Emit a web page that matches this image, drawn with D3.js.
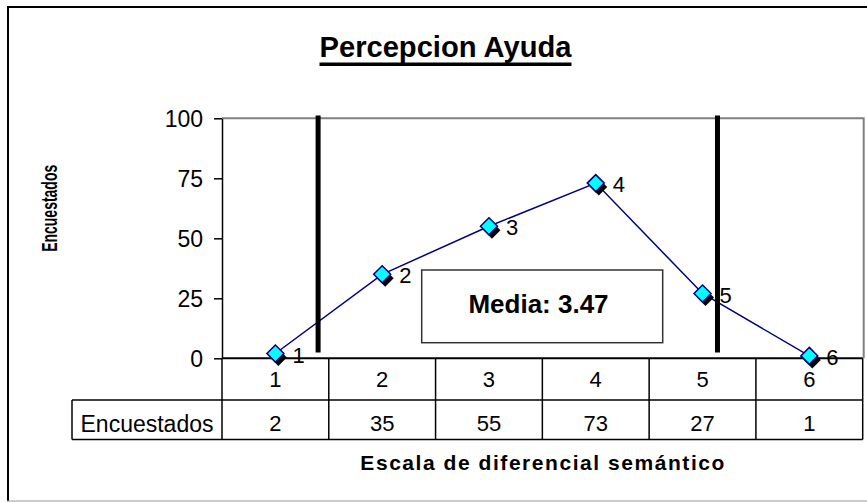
<!DOCTYPE html>
<html>
<head>
<meta charset="utf-8">
<script src="https://cdn.jsdelivr.net/npm/d3@7"></script>
<style>
  html, body { margin: 0; padding: 0; background: #fff; }
  svg { display: block; font-family: "Liberation Sans", Arial, sans-serif; }
</style>
</head>
<body>
<svg id="chart" width="867" height="502"></svg>
<script>
// ---- data ----
const titleText = "Percepcion Ayuda";
const xTitle = "Escala de diferencial semántico";
const yTitle = "Encuestados";
const rowLabel = "Encuestados";
const categories = ["1", "2", "3", "4", "5", "6"];
const encuestados = [2, 35, 55, 73, 27, 1];
const yTicks = [0, 25, 50, 75, 100];
const refLinesX = [1.4, 5.14];
const refLineSpan = [2.4, 101.2];
const mediaLabel = "Media: 3.47";

// ---- layout ----
const svg = d3.select("#chart");
const FONT_REG = 22;
const plot = { left: 222, right: 862.7, top: 118.3, bottom: 358.3 };
const x = d3.scaleLinear().domain([0.5, categories.length + 0.5]).range([plot.left, plot.right]);
const y = d3.scaleLinear().domain([0, 100]).range([plot.bottom, plot.top]);
const rowTop = plot.bottom, rowMid = 400, rowBot = 439.5, labelLeft = 72;

// outer chart frame
svg.append("line").attr("x1", 8).attr("x2", 867).attr("y1", 7).attr("y2", 7)
  .attr("stroke", "#000").attr("stroke-width", 2);
svg.append("line").attr("x1", 8).attr("x2", 8).attr("y1", 6).attr("y2", 501)
  .attr("stroke", "#000").attr("stroke-width", 2);
svg.append("line").attr("x1", 7).attr("x2", 867).attr("y1", 501).attr("y2", 501)
  .attr("stroke", "#999").attr("stroke-width", 1);

// title
svg.append("text").attr("x", 445.5).attr("y", 56.7).attr("text-anchor", "middle")
  .attr("font-size", 29).attr("font-weight", "bold")
  .attr("textLength", 252).attr("lengthAdjust", "spacingAndGlyphs")
  .text(titleText);
svg.append("rect").attr("x", 319.5).attr("y", 62.5).attr("width", 252).attr("height", 3.5).attr("fill", "#000");

// plot area border (gray)
svg.append("path")
  .attr("d", `M${plot.left},${plot.top}H${plot.right + 1}V${plot.bottom}`)
  .attr("fill", "none").attr("stroke", "#808080").attr("stroke-width", 2);

// series line
const line = d3.line().x((d, i) => x(i + 1)).y(d => y(d));
svg.append("path").datum(encuestados).attr("d", line)
  .attr("fill", "none").attr("stroke", "#000080").attr("stroke-width", 1.5);

// reference vertical lines
svg.selectAll(".ref").data(refLinesX).join("line").attr("class", "ref")
  .attr("x1", d => x(d)).attr("x2", d => x(d))
  .attr("y1", y(refLineSpan[1])).attr("y2", y(refLineSpan[0]))
  .attr("stroke", "#000").attr("stroke-width", 5);

// y axis
const yAxis = d3.axisLeft(y).tickValues(yTicks).tickSize(8).tickSizeOuter(0).tickPadding(11);
const gy = svg.append("g").attr("transform", `translate(${plot.left},0)`).call(yAxis);
gy.select(".domain").attr("stroke", "#000").attr("stroke-width", 1.5);
gy.selectAll(".tick line").attr("stroke", "#000").attr("stroke-width", 1.5);
gy.selectAll(".tick text").attr("font-size", 23).attr("fill", "#000")
  .attr("font-family", "'Liberation Sans', Arial, sans-serif").attr("dy", "0.36em");

// y title
svg.append("text").attr("transform", "translate(56.5,208.3) rotate(-90)")
  .attr("text-anchor", "middle").attr("font-size", 22).attr("font-weight", "bold")
  .attr("textLength", 87).attr("lengthAdjust", "spacingAndGlyphs")
  .text(yTitle);

// data table
const tbl = svg.append("g").attr("stroke", "#000").attr("stroke-width", 1.5);
const bounds = d3.range(categories.length + 1).map(i => x(i + 0.5));
bounds.forEach(b => tbl.append("line").attr("x1", b).attr("x2", b).attr("y1", rowTop).attr("y2", rowBot));
tbl.append("line").attr("x1", labelLeft).attr("x2", labelLeft).attr("y1", rowMid).attr("y2", rowBot);
tbl.append("line").attr("x1", labelLeft).attr("x2", plot.right).attr("y1", rowMid).attr("y2", rowMid);
tbl.append("line").attr("x1", labelLeft).attr("x2", plot.right).attr("y1", rowBot).attr("y2", rowBot);

// x axis line
svg.append("line").attr("x1", plot.left).attr("x2", plot.right).attr("y1", plot.bottom).attr("y2", plot.bottom)
  .attr("stroke", "#000").attr("stroke-width", 2);

svg.selectAll(".cat").data(categories).join("text").attr("class", "cat")
  .attr("x", (d, i) => x(i + 1)).attr("y", 386.5).attr("text-anchor", "middle")
  .attr("font-size", FONT_REG).text(d => d);
svg.selectAll(".val").data(encuestados).join("text").attr("class", "val")
  .attr("x", (d, i) => x(i + 1)).attr("y", 431).attr("text-anchor", "middle")
  .attr("font-size", FONT_REG).text(d => d);
svg.append("text").attr("x", (labelLeft + plot.left) / 2).attr("y", 431.5).attr("text-anchor", "middle")
  .attr("font-size", FONT_REG + 1).text(rowLabel);

// x title
svg.append("text").attr("x", (plot.left + plot.right) / 2).attr("y", 470).attr("text-anchor", "middle")
  .attr("font-size", 21).attr("font-weight", "bold")
  .attr("textLength", 364).attr("lengthAdjust", "spacing")
  .text(xTitle);

// markers
const R = 8.5;
const diamond = `M0,${-R}L${R},0L0,${R}L${-R},0Z`;
const mk = svg.selectAll(".mk").data(encuestados).join("g").attr("class", "mk")
  .attr("transform", (d, i) => `translate(${x(i + 1)},${y(d)})`);
mk.append("path").attr("d", diamond).attr("transform", "translate(3,4)").attr("fill", "#000");
mk.append("path").attr("d", diamond).attr("fill", "#00FFFF").attr("stroke", "#000080").attr("stroke-width", 1.5);

// point labels (category names)
svg.selectAll(".pl").data(encuestados).join("text").attr("class", "pl")
  .attr("x", (d, i) => x(i + 1) + 17).attr("y", d => y(d) + 9)
  .attr("font-size", FONT_REG).text((d, i) => categories[i]);

// media box
svg.append("rect").attr("x", 421.7).attr("y", 270).attr("width", 241).attr("height", 72.7)
  .attr("fill", "#fff").attr("stroke", "#333").attr("stroke-width", 1.5);
svg.append("text").attr("x", 538.5).attr("y", 312.7).attr("text-anchor", "middle")
  .attr("font-size", 26).attr("font-weight", "bold").text(mediaLabel);
</script>
</body>
</html>
